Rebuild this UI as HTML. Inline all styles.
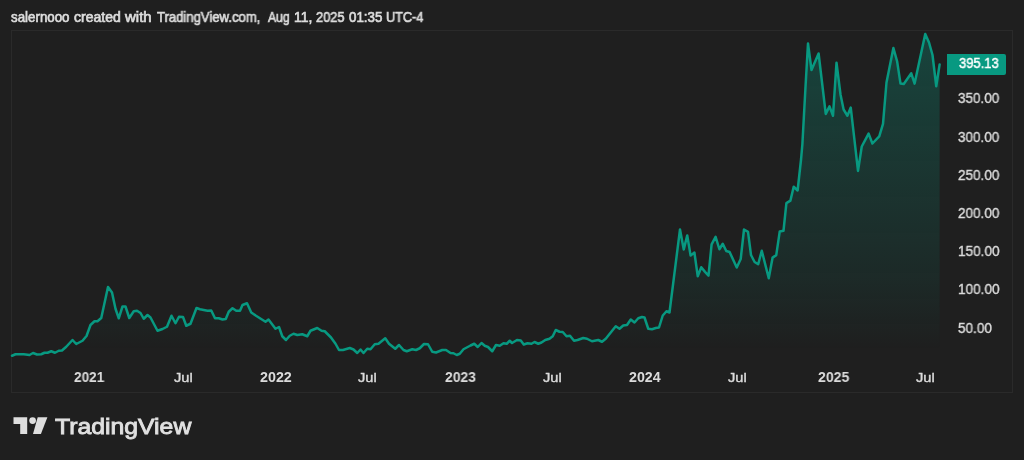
<!DOCTYPE html>
<html><head><meta charset="utf-8">
<style>
html,body{margin:0;padding:0;}
body{width:1024px;height:460px;background:#1f1f1f;position:relative;overflow:hidden;font-family:"Liberation Sans",sans-serif;}
.t{position:absolute;white-space:nowrap;line-height:1;transform-origin:0 0;will-change:transform;}
.hw{top:10.1px;font-size:13.3px;color:#dcdcdc;-webkit-text-stroke:0.65px #dcdcdc;}
#lbl{position:absolute;left:947px;top:54px;width:59px;height:21px;background:#089981;border-radius:0 2px 2px 0;}
</style></head><body>
<div class="t hw" style="left:11.18px;transform:scale(1.0023,1.05)">salernooo</div>
<div class="t hw" style="left:74.27px;transform:scale(1.0554,1.05)">created</div>
<div class="t hw" style="left:125.33px;transform:scale(1.1252,1.05)">with</div>
<div class="t hw" style="left:157.37px;transform:scale(0.9842,1.05)">TradingView.com,</div>
<div class="t hw" style="left:267.63px;transform:scale(0.9163,1.05)">Aug</div>
<div class="t hw" style="left:293.92px;transform:scale(1.0422,1.05)">11,</div>
<div class="t hw" style="left:316.29px;transform:scale(0.9616,1.05)">2025</div>
<div class="t hw" style="left:348.80px;transform:scale(1.0017,1.05)">01:35</div>
<div class="t hw" style="left:386.21px;transform:scale(0.9549,1.05)">UTC-4</div>
<svg width="1024" height="460" style="position:absolute;left:0;top:0">
<defs>
<linearGradient id="g" x1="0" y1="30" x2="0" y2="350" gradientUnits="userSpaceOnUse">
<stop offset="0" stop-color="#089981" stop-opacity="0.31"/>
<stop offset="0.78" stop-color="#089981" stop-opacity="0.09"/>
<stop offset="1" stop-color="#089981" stop-opacity="0"/>
</linearGradient>
</defs>
<rect x="11.5" y="30.5" width="1001" height="362" fill="none" stroke="#363636" stroke-width="1" stroke-dasharray="1 1"/>
<path d="M12,355.75 L15.5,354.25 L23.75,354.25 L29.5,355 L33,353 L37,354.5 L41.25,354.25 L44.5,352.75 L47.5,352.75 L51.25,351.25 L55,352.75 L58.75,350.75 L62,350.5 L66.25,346.75 L72.5,340 L76.25,344 L82.5,340.75 L86.5,336 L90.5,325 L94.5,321.25 L97.5,321.25 L101.25,318 L108,286.9 L112,292.5 L115.5,308.75 L118.75,318.25 L122.5,306.5 L125.5,306.5 L129.25,318 L133.75,311.25 L137,310.75 L140.5,313 L143.75,318.75 L147.5,315 L150.5,317.5 L157.5,330.75 L162.5,329 L167,326.75 L171.5,315.75 L175.5,323.25 L179,316.75 L183,317 L186.25,325.75 L190.5,323.75 L196.5,308 L200,309.25 L207.5,310.75 L211.25,310.5 L215,318.25 L218.75,318.25 L222.5,319.5 L225.75,319 L228.75,311.75 L232.5,308.25 L236.25,310.75 L240,310.75 L242.5,305 L247,303.25 L251.25,312.5 L256,315.75 L265.5,321.75 L268.5,319.5 L275.5,328.75 L279,327 L282.25,336.25 L286,340 L289.75,335.75 L293.5,333.75 L297.25,335 L302.25,334.25 L307.25,336.25 L310.5,330.75 L317.25,328 L321.5,330.75 L324.75,331.25 L331,337.5 L335.5,343.75 L339,350 L343,350 L349.75,348 L353.5,349.5 L357.25,353 L360.5,349.5 L363.5,353 L367.25,348.75 L370.5,349.25 L374.75,344.25 L378.5,343.75 L385.25,338.25 L389,343.75 L395.25,348.75 L399,345 L403.5,350 L406.75,351.25 L412.25,349.25 L416,350 L419.75,348.25 L424,344 L428,344.25 L432.25,351.75 L436,352.5 L442.25,350 L446,350 L450.5,353 L453.5,353.25 L456.75,355 L459.75,353.75 L463.5,349.25 L470.5,345.5 L474.25,343.75 L477.75,347 L481.5,343 L484.75,345.75 L488,347 L492.25,351.25 L496,345 L499.75,345.75 L503.5,343.25 L506.75,343.75 L509.75,340.75 L512,343 L517,340 L520.75,340.5 L523.75,344.5 L527.5,343.25 L531.5,343.75 L534.5,342 L538.25,343.75 L541.5,342.5 L545.25,340 L549.5,338.75 L552.75,336.25 L555.75,330 L559.5,331.75 L562.75,332 L566.5,336.25 L570,335.75 L574,340.75 L577.5,340 L583.25,338 L587,338.75 L592,341.25 L598.25,340 L602,341.75 L605.75,338.75 L615.75,326.25 L619.5,328.75 L623.25,325.5 L627,325 L630.75,319.5 L634.5,322.5 L638.25,318.25 L642,317 L644.5,317.5 L648.25,328.75 L652,329.25 L655.75,328 L659,327.5 L662.75,315.5 L666.5,311.25 L669.5,312.5 L680,229.4 L683.75,249.4 L687.25,235.4 L690.6,255.6 L694.4,252.5 L697.75,276.25 L701.25,267.25 L705,271.9 L708.5,275.6 L711.6,244.4 L715.6,236.9 L719.4,249.25 L722.75,243.75 L726.25,251 L729.6,252 L736.75,267.5 L740.7,259 L744,229.5 L748,231.8 L751,255 L754.6,262 L758.2,264.2 L761.75,250.7 L768.75,278.25 L772.6,257.6 L776.25,255.1 L779.75,231.4 L783.5,230.75 L786.4,203.1 L790.4,200.6 L793.7,186.7 L797.6,190.5 L801.1,159 L802.4,144 L805.5,87 L808,43.5 L811.5,70 L818.6,53.5 L825.75,113.9 L829.5,106.4 L833,115.75 L836.5,62.75 L840.5,94.5 L843.6,109.5 L847.4,115.75 L850.75,107.6 L858,170.9 L861.75,146.5 L868.6,133.6 L872.4,143.5 L879.25,136.4 L883,123.9 L886.5,82.5 L893.4,48.1 L897.1,61.25 L900.5,83.6 L903.75,84 L911.25,73.3 L914.6,83.6 L925.25,34 L929,42.5 L932.5,55 L936.25,86.25 L939.6,64.6 L939.6,362 L12,362 Z" fill="url(#g)"/>
<path d="M12,355.75 L15.5,354.25 L23.75,354.25 L29.5,355 L33,353 L37,354.5 L41.25,354.25 L44.5,352.75 L47.5,352.75 L51.25,351.25 L55,352.75 L58.75,350.75 L62,350.5 L66.25,346.75 L72.5,340 L76.25,344 L82.5,340.75 L86.5,336 L90.5,325 L94.5,321.25 L97.5,321.25 L101.25,318 L108,286.9 L112,292.5 L115.5,308.75 L118.75,318.25 L122.5,306.5 L125.5,306.5 L129.25,318 L133.75,311.25 L137,310.75 L140.5,313 L143.75,318.75 L147.5,315 L150.5,317.5 L157.5,330.75 L162.5,329 L167,326.75 L171.5,315.75 L175.5,323.25 L179,316.75 L183,317 L186.25,325.75 L190.5,323.75 L196.5,308 L200,309.25 L207.5,310.75 L211.25,310.5 L215,318.25 L218.75,318.25 L222.5,319.5 L225.75,319 L228.75,311.75 L232.5,308.25 L236.25,310.75 L240,310.75 L242.5,305 L247,303.25 L251.25,312.5 L256,315.75 L265.5,321.75 L268.5,319.5 L275.5,328.75 L279,327 L282.25,336.25 L286,340 L289.75,335.75 L293.5,333.75 L297.25,335 L302.25,334.25 L307.25,336.25 L310.5,330.75 L317.25,328 L321.5,330.75 L324.75,331.25 L331,337.5 L335.5,343.75 L339,350 L343,350 L349.75,348 L353.5,349.5 L357.25,353 L360.5,349.5 L363.5,353 L367.25,348.75 L370.5,349.25 L374.75,344.25 L378.5,343.75 L385.25,338.25 L389,343.75 L395.25,348.75 L399,345 L403.5,350 L406.75,351.25 L412.25,349.25 L416,350 L419.75,348.25 L424,344 L428,344.25 L432.25,351.75 L436,352.5 L442.25,350 L446,350 L450.5,353 L453.5,353.25 L456.75,355 L459.75,353.75 L463.5,349.25 L470.5,345.5 L474.25,343.75 L477.75,347 L481.5,343 L484.75,345.75 L488,347 L492.25,351.25 L496,345 L499.75,345.75 L503.5,343.25 L506.75,343.75 L509.75,340.75 L512,343 L517,340 L520.75,340.5 L523.75,344.5 L527.5,343.25 L531.5,343.75 L534.5,342 L538.25,343.75 L541.5,342.5 L545.25,340 L549.5,338.75 L552.75,336.25 L555.75,330 L559.5,331.75 L562.75,332 L566.5,336.25 L570,335.75 L574,340.75 L577.5,340 L583.25,338 L587,338.75 L592,341.25 L598.25,340 L602,341.75 L605.75,338.75 L615.75,326.25 L619.5,328.75 L623.25,325.5 L627,325 L630.75,319.5 L634.5,322.5 L638.25,318.25 L642,317 L644.5,317.5 L648.25,328.75 L652,329.25 L655.75,328 L659,327.5 L662.75,315.5 L666.5,311.25 L669.5,312.5 L680,229.4 L683.75,249.4 L687.25,235.4 L690.6,255.6 L694.4,252.5 L697.75,276.25 L701.25,267.25 L705,271.9 L708.5,275.6 L711.6,244.4 L715.6,236.9 L719.4,249.25 L722.75,243.75 L726.25,251 L729.6,252 L736.75,267.5 L740.7,259 L744,229.5 L748,231.8 L751,255 L754.6,262 L758.2,264.2 L761.75,250.7 L768.75,278.25 L772.6,257.6 L776.25,255.1 L779.75,231.4 L783.5,230.75 L786.4,203.1 L790.4,200.6 L793.7,186.7 L797.6,190.5 L801.1,159 L802.4,144 L805.5,87 L808,43.5 L811.5,70 L818.6,53.5 L825.75,113.9 L829.5,106.4 L833,115.75 L836.5,62.75 L840.5,94.5 L843.6,109.5 L847.4,115.75 L850.75,107.6 L858,170.9 L861.75,146.5 L868.6,133.6 L872.4,143.5 L879.25,136.4 L883,123.9 L886.5,82.5 L893.4,48.1 L897.1,61.25 L900.5,83.6 L903.75,84 L911.25,73.3 L914.6,83.6 L925.25,34 L929,42.5 L932.5,55 L936.25,86.25 L939.6,64.6" fill="none" stroke="#089981" stroke-width="2.5" stroke-linejoin="round" stroke-linecap="round"/>
<path d="M13.5,417.2 H27.2 V434.1 H20.2 V424 H13.5 Z" fill="#dedede"/>
<circle cx="32.6" cy="420.6" r="3.35" fill="#dedede"/>
<path d="M37.7,417.2 H47.4 L40.9,434.1 H33 Z" fill="#dedede"/>
</svg>
<div id="lbl"></div>
<div class="t" style="left:958.88px;top:57.33px;font-size:13.80px;font-weight:normal;color:#ffffff;transform:scaleX(0.9416);-webkit-text-stroke:0.45px #fff;">395.13</div>
<div class="t" style="left:958.36px;top:92.31px;font-size:13.94px;font-weight:normal;color:#dbdbdb;transform:scaleX(0.9651);-webkit-text-stroke:0.4px #dbdbdb;">350.00</div>
<div class="t" style="left:958.36px;top:130.51px;font-size:13.94px;font-weight:normal;color:#dbdbdb;transform:scaleX(0.9651);-webkit-text-stroke:0.4px #dbdbdb;">300.00</div>
<div class="t" style="left:958.22px;top:168.71px;font-size:13.94px;font-weight:normal;color:#dbdbdb;transform:scaleX(0.9683);-webkit-text-stroke:0.4px #dbdbdb;">250.00</div>
<div class="t" style="left:958.22px;top:206.91px;font-size:13.94px;font-weight:normal;color:#dbdbdb;transform:scaleX(0.9683);-webkit-text-stroke:0.4px #dbdbdb;">200.00</div>
<div class="t" style="left:958.01px;top:245.11px;font-size:13.94px;font-weight:normal;color:#dbdbdb;transform:scaleX(0.9733);-webkit-text-stroke:0.4px #dbdbdb;">150.00</div>
<div class="t" style="left:958.01px;top:283.31px;font-size:13.94px;font-weight:normal;color:#dbdbdb;transform:scaleX(0.9733);-webkit-text-stroke:0.4px #dbdbdb;">100.00</div>
<div class="t" style="left:958.36px;top:321.51px;font-size:13.94px;font-weight:normal;color:#dbdbdb;transform:scaleX(0.9691);-webkit-text-stroke:0.4px #dbdbdb;">50.00</div>
<div class="t" style="left:74.49px;top:370.37px;font-size:14.23px;font-weight:bold;color:#dbdbdb;transform:scaleX(0.9557);">2021</div>
<div class="t" style="left:259.57px;top:370.37px;font-size:14.23px;font-weight:bold;color:#dbdbdb;transform:scaleX(1.0054);">2022</div>
<div class="t" style="left:444.58px;top:370.37px;font-size:14.23px;font-weight:bold;color:#dbdbdb;transform:scaleX(0.9763);">2023</div>
<div class="t" style="left:629.07px;top:370.37px;font-size:14.23px;font-weight:bold;color:#dbdbdb;transform:scaleX(0.9983);">2024</div>
<div class="t" style="left:817.58px;top:370.37px;font-size:14.23px;font-weight:bold;color:#dbdbdb;transform:scaleX(0.9880);">2025</div>
<div class="t" style="left:173.61px;top:370.86px;font-size:13.65px;font-weight:normal;color:#dbdbdb;transform:scaleX(1.0713);-webkit-text-stroke:0.4px #dbdbdb;">Jul</div>
<div class="t" style="left:358.46px;top:370.86px;font-size:13.65px;font-weight:normal;color:#dbdbdb;transform:scaleX(1.0713);-webkit-text-stroke:0.4px #dbdbdb;">Jul</div>
<div class="t" style="left:542.96px;top:370.86px;font-size:13.65px;font-weight:normal;color:#dbdbdb;transform:scaleX(1.0713);-webkit-text-stroke:0.4px #dbdbdb;">Jul</div>
<div class="t" style="left:727.96px;top:370.86px;font-size:13.65px;font-weight:normal;color:#dbdbdb;transform:scaleX(1.0713);-webkit-text-stroke:0.4px #dbdbdb;">Jul</div>
<div class="t" style="left:916.46px;top:370.86px;font-size:13.65px;font-weight:normal;color:#dbdbdb;transform:scaleX(1.0713);-webkit-text-stroke:0.4px #dbdbdb;">Jul</div>
<div class="t" style="left:55.20px;top:414.97px;font-size:22.77px;font-weight:normal;color:#e0e0e0;transform:scaleX(1.0877);-webkit-text-stroke:0.9px #e0e0e0;">TradingView</div>
</body></html>
